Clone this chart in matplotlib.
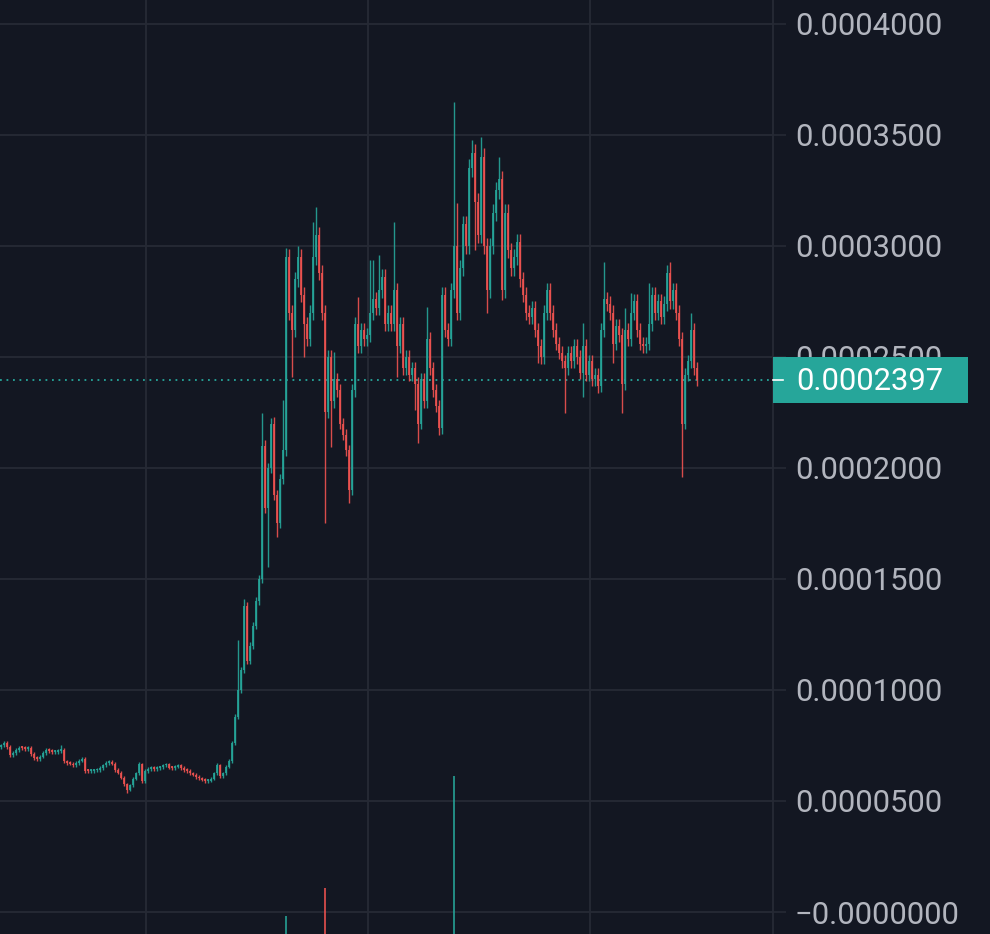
import matplotlib
matplotlib.use("Agg")
import matplotlib.pyplot as plt
from matplotlib.patches import Rectangle
from matplotlib.lines import Line2D
import numpy as np

plt.rcParams['font.family'] = ['Roboto', 'DejaVu Sans']

# ---- data (prices in units of 1e-7) ----
UNIT = 1e-7
first_open = 745
closes = [
    750, 760, 745, 705, 715, 728, 740, 738, 735, 740,
    712, 695, 688, 700, 718, 728, 726, 720, 722, 724,
    728, 678, 672, 668, 660, 672, 682, 690, 636, 635,
    636, 638, 640, 648, 660, 672, 676, 668, 640, 628,
    605, 575, 550, 570, 600, 625, 665, 590, 635, 645,
    650, 645, 648, 652, 660, 665, 650, 648, 655, 660,
    648, 640, 635, 625, 618, 608, 602, 596, 590, 592,
    600, 625, 660, 612, 625, 655, 680, 760, 880, 1000,
    1090, 1380, 1130, 1200, 1290, 1400, 1500, 2100, 1820, 2000,
    2200, 1880, 1750, 1950, 2080, 2950, 2700, 2620, 2850, 2950,
    2780, 2650, 2580, 2700, 2950, 3050, 2880, 2700, 2250, 2500,
    2300, 2400, 2350, 2200, 2150, 2080, 1900, 2350, 2650, 2550,
    2620, 2580, 2600, 2700, 2760, 2720, 2800, 2860, 2650, 2700,
    2650, 2800, 2550, 2650, 2450, 2500, 2420, 2450, 2380, 2200,
    2400, 2300, 2580, 2450, 2350, 2280, 2180, 2780, 2620, 2580,
    2800, 3000, 2700, 2900, 3100, 3000, 3350, 3420, 3200, 3050,
    3400, 3000, 2800, 3000, 3150, 3250, 3300, 2800, 3150, 2980,
    2900, 2950, 3020, 2850, 2780, 2700, 2680, 2720, 2620, 2550,
    2500, 2700, 2800, 2700, 2620, 2560, 2520, 2480, 2450, 2520,
    2480, 2550, 2500, 2430, 2550, 2420, 2480, 2400, 2420, 2370,
    2620, 2760, 2740, 2700, 2560, 2640, 2600, 2380, 2620, 2580,
    2700, 2750, 2620, 2560, 2550, 2560, 2650, 2780, 2700, 2750,
    2680, 2740, 2880, 2750, 2800, 2700, 2580, 2200, 2420, 2480,
    2620, 2450, 2397,
]
# notable wick extremes
high_marks = {20: 752, 27: 700, 46: 675, 72: 672, 79: 1225, 81: 1410, 87: 2248,
              90: 2216, 91: 2230, 94: 2306, 95: 2991, 99: 3000, 104: 3108,
              105: 3176, 111: 2522, 119: 2770, 123: 2937, 124: 2937, 126: 2959,
              131: 3108, 142: 2725, 151: 3650, 152: 3194, 157: 3477, 160: 3491,
              166: 3401, 194: 2653, 201: 2928, 208: 2720, 210: 2788, 216: 2833,
              223: 2928, 230: 2700}
low_marks = {42: 535, 89: 1554, 92: 1690, 97: 2410, 101: 2500, 108: 1752,
             110: 2095, 116: 1842, 132: 2410, 138: 2261, 139: 2113, 146: 2150,
             152: 2680, 158: 2982, 162: 2698, 167: 2757, 179: 2473, 188: 2248,
             194: 2320, 199: 2338, 204: 2473, 207: 2248, 227: 1960}
volume_marks = {95: 84, 108: 112, 151: 224}

y_ticks = [0.0, 0.00005, 0.0001, 0.00015, 0.0002, 0.00025, 0.0003, 0.00035, 0.0004]
y_labels = ["\u22120.0000000", "0.0000500", "0.0001000", "0.0001500", "0.0002000",
            "0.0002500", "0.0003000", "0.0003500", "0.0004000"]
last_price = 0.0002397
last_label = "0.0002397"

# ---- style ----
BG = '#131722'
GRID = '#262a35'
UP = '#26a69a'
DOWN = '#ef5350'
TXT = '#b2b5be'
WICK = 0.012

n = len(closes)
c = np.array(closes, float) * UNIT
o = np.concatenate([[first_open * UNIT], c[:-1]])
top = np.maximum(o, c)
bot = np.minimum(o, c)
hi = top * (1 + WICK)
lo = bot * (1 - WICK)
for k, v in high_marks.items():
    hi[k] = max(hi[k], v * UNIT)
for k, v in low_marks.items():
    lo[k] = min(lo[k], v * UNIT)
x = np.arange(n)
colors = [UP if c[i] >= o[i] else DOWN for i in range(n)]

fig = plt.figure(figsize=(9.9, 9.34), dpi=100, facecolor=BG)
ax = fig.add_axes([0, 0, 773 / 990, 1])
ax.set_facecolor(BG)

# volume overlay (baseline below the visible area)
ax2 = ax.twinx()
ax2.set_ylim(66, 1000)
vk = sorted(volume_marks)
ax2.bar(vk, [volume_marks[k] for k in vk], width=0.35,
        color=[colors[k] for k in vk], linewidth=0, alpha=0.8)
ax2.axis('off')

ax.vlines(x, lo, hi, colors=colors, linewidth=1.0, alpha=0.9, zorder=3)
heights = np.maximum(top - bot, 0.0000008)
ax.bar(x, heights, bottom=bot, width=0.92, color=colors, linewidth=0, alpha=0.85, zorder=3)

ax.axhline(last_price, color=UP, linewidth=1.3, linestyle=(0, (1, 2.6)), zorder=2)

ax.set_xlim(-1 / 3, 772 / 3)
ax2.set_xlim(ax.get_xlim())
ax.set_ylim(-22 * 4.5045e-7, 912 * 4.5045e-7)
ax.set_xticks([145 / 3, 367 / 3, 589 / 3])
ax.set_xticklabels([])
ax.tick_params(axis='x', length=0)
ax.set_yticks(y_ticks)
ax.set_yticklabels(y_labels)
ax.yaxis.tick_right()
ax.tick_params(axis='y', which='both', left=False, labelleft=False, right=True, labelright=True,
               colors=GRID, labelcolor=TXT, labelsize=22.3, length=9, width=1.2, pad=6.8)
ax.grid(True, color=GRID, linewidth=1.3, zorder=0)
ax.set_axisbelow(True)
for s in ['top', 'left', 'bottom']:
    ax.spines[s].set_visible(False)
ax.spines['right'].set_color(GRID)
ax.spines['right'].set_linewidth(1.3)

# last price box
fig.patches.append(Rectangle((773 / 990, 1 - 403 / 934), 195 / 990, 46 / 934,
                             transform=fig.transFigure, facecolor=UP, edgecolor='none', zorder=5))
fig.lines.append(Line2D([773 / 990, 783 / 990], [1 - 380 / 934] * 2, transform=fig.transFigure,
                        color='white', linewidth=1.2, zorder=6))
fig.text(796 / 990, 1 - 381 / 934, last_label, color='white', fontsize=22.3,
         ha='left', va='center', zorder=6)

fig.savefig('out.png', dpi=100, facecolor=BG)
